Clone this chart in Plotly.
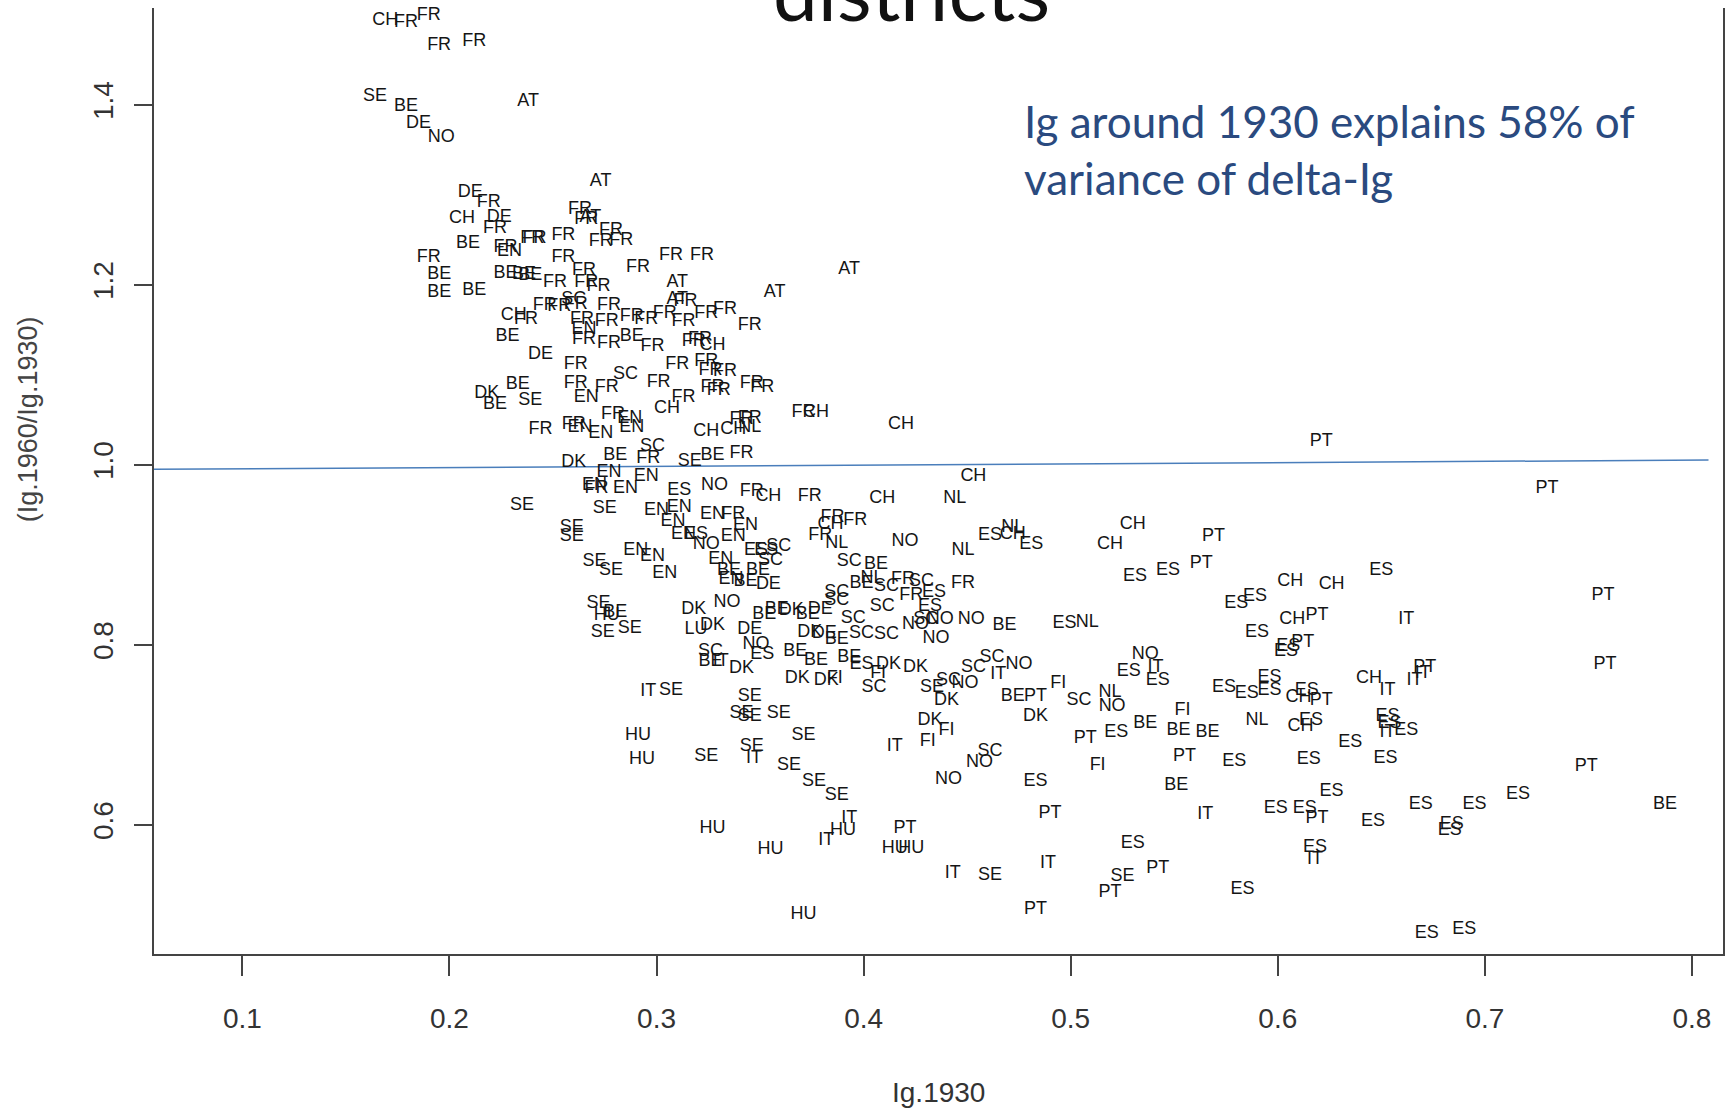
import plotly.graph_objects as go

# ---- data: Ig.1930 (x) and Ig.1960/Ig.1930 (y) per country label ----
CH_x = [0.169,0.206,0.231,0.305,0.327,0.324,0.337,0.377,0.418,0.453,0.354,0.409,0.384,0.472,0.530,0.519,0.606,0.626,0.607,0.610,0.611,0.644]
CH_y = [1.494,1.274,1.166,1.063,1.133,1.037,1.039,1.058,1.045,0.987,0.965,0.963,0.934,0.923,0.934,0.911,0.870,0.867,0.828,0.741,0.709,0.763]

FR_x = [0.179,0.190,0.195,0.212,0.219,0.222,0.240,0.241,0.255,0.263,0.266,0.278,0.273,0.283,0.190,0.227,0.251,0.255,0.265,0.266,
        0.272,0.291,0.307,0.322,0.314,0.261,0.246,0.253,0.277,0.237,0.264,0.276,0.288,0.295,0.304,0.313,0.324,0.265,0.277,0.298,
        0.318,0.261,0.310,0.324,0.301,0.313,0.327,0.261,0.276,0.333,0.345,0.321,0.326,0.333,0.346,0.351,0.330,0.371,0.345,0.244,
        0.260,0.279,0.296,0.341,0.341,0.271,0.337,0.346,0.374,0.385,0.396,0.379,0.419,0.448,0.423]
FR_y = [1.491,1.499,1.466,1.470,1.291,1.263,1.252,1.251,1.255,1.284,1.273,1.260,1.248,1.249,1.230,1.242,1.203,1.230,1.216,1.203,
        1.198,1.219,1.233,1.233,1.181,1.178,1.177,1.176,1.177,1.161,1.162,1.159,1.165,1.162,1.168,1.159,1.168,1.139,1.135,1.132,
        1.137,1.111,1.112,1.115,1.092,1.075,1.086,1.090,1.086,1.173,1.155,1.139,1.105,1.104,1.090,1.086,1.083,1.058,1.052,1.039,
        1.045,1.056,1.007,1.013,1.050,0.974,0.945,0.970,0.965,0.942,0.938,0.922,0.873,0.868,0.855]

BE_x = [0.179,0.209,0.195,0.195,0.212,0.227,0.236,0.239,0.228,0.233,0.222,0.280,0.327,0.288,0.280,0.367,0.377,0.393,0.326,0.399,
        0.406,0.468,0.349,0.472,0.536,0.552,0.566,0.551,0.787,0.335,0.343,0.352,0.358,0.373,0.387]
BE_y = [1.398,1.246,1.211,1.192,1.194,1.213,1.211,1.210,1.143,1.089,1.067,1.010,1.010,1.143,0.836,0.792,0.783,0.786,0.781,0.868,
        0.889,0.821,0.882,0.742,0.713,0.705,0.703,0.644,0.623,0.883,0.870,0.834,0.839,0.834,0.806]

DE_x = [0.185,0.210,0.224,0.244,0.345,0.354,0.379,0.381]
DE_y = [1.379,1.303,1.275,1.123,0.817,0.867,0.839,0.812]

SE_x = [0.164,0.239,0.235,0.259,0.259,0.270,0.278,0.275,0.272,0.274,0.287,0.316,0.307,0.345,0.341,0.345,0.359,0.371,0.324,0.346,
        0.364,0.376,0.387,0.433,0.461,0.525]
SE_y = [1.409,1.072,0.955,0.930,0.920,0.893,0.883,0.952,0.846,0.814,0.818,1.004,0.749,0.742,0.724,0.720,0.724,0.699,0.676,0.687,
        0.666,0.648,0.633,0.752,0.544,0.542]

NO_x = [0.196,0.328,0.324,0.334,0.348,0.420,0.437,0.452,0.425,0.435,0.449,0.475,0.536,0.520,0.456,0.441]
NO_y = [1.364,0.977,0.911,0.847,0.800,0.915,0.828,0.828,0.822,0.807,0.757,0.778,0.789,0.731,0.669,0.650]

AT_x = [0.238,0.273,0.268,0.310,0.310,0.357,0.393]
AT_y = [1.404,1.315,1.275,1.203,1.184,1.192,1.217]

DK_x = [0.218,0.260,0.318,0.327,0.341,0.368,0.382,0.412,0.425,0.440,0.432,0.483,0.365,0.374]
DK_y = [1.079,1.003,0.839,0.821,0.774,0.763,0.760,0.778,0.775,0.738,0.716,0.720,0.838,0.814]

EN_x = [0.229,0.265,0.266,0.273,0.263,0.287,0.288,0.277,0.295,0.285,0.300,0.311,0.327,0.308,0.313,0.337,0.343,0.290,0.298,0.304,
        0.331,0.336,0.270]
EN_y = [1.237,1.150,1.075,1.035,1.041,1.052,1.041,0.992,0.987,0.974,0.949,0.953,0.945,0.937,0.923,0.920,0.933,0.905,0.898,0.879,
        0.895,0.873,0.977]

SC_x = [0.260,0.285,0.298,0.359,0.355,0.393,0.411,0.428,0.387,0.409,0.430,0.399,0.411,0.405,0.441,0.453,0.462,0.504,0.461,0.326,
        0.387,0.395]
SC_y = [1.184,1.100,1.020,0.909,0.894,0.893,0.865,0.870,0.858,0.843,0.828,0.813,0.811,0.752,0.760,0.775,0.786,0.738,0.681,0.792,
        0.849,0.829]

ES_x = [0.311,0.319,0.348,0.353,0.461,0.481,0.434,0.432,0.399,0.531,0.547,0.580,0.589,0.497,0.590,0.605,0.604,0.528,0.542,0.522,
        0.483,0.530,0.574,0.585,0.596,0.596,0.614,0.616,0.635,0.615,0.579,0.626,0.599,0.613,0.618,0.650,0.653,0.654,0.662,0.652,
        0.669,0.695,0.716,0.646,0.684,0.683,0.583,0.672,0.690,0.351]
ES_y = [0.972,0.923,0.905,0.905,0.922,0.911,0.858,0.843,0.778,0.876,0.883,0.846,0.854,0.824,0.814,0.798,0.792,0.770,0.760,0.702,
        0.648,0.579,0.752,0.746,0.764,0.749,0.749,0.716,0.691,0.672,0.670,0.637,0.618,0.618,0.575,0.882,0.720,0.713,0.705,0.674,
        0.623,0.623,0.634,0.604,0.600,0.594,0.528,0.479,0.484,0.789]

PT_x = [0.621,0.730,0.569,0.563,0.619,0.612,0.757,0.671,0.758,0.483,0.507,0.555,0.749,0.490,0.619,0.542,0.519,0.483,0.420,0.621]
PT_y = [1.026,0.974,0.920,0.890,0.832,0.803,0.855,0.775,0.778,0.742,0.696,0.676,0.665,0.612,0.607,0.551,0.525,0.506,0.596,0.738]

NL_x = [0.345,0.444,0.448,0.472,0.387,0.404,0.508,0.519,0.590]
NL_y = [1.041,0.963,0.905,0.930,0.912,0.874,0.825,0.747,0.716]

IT_x = [0.296,0.347,0.393,0.382,0.415,0.465,0.541,0.443,0.489,0.565,0.618,0.662,0.670,0.666,0.653,0.653,0.331]
IT_y = [0.748,0.674,0.607,0.583,0.687,0.767,0.775,0.546,0.557,0.611,0.561,0.828,0.768,0.760,0.749,0.703,0.781]

HU_x = [0.291,0.293,0.327,0.355,0.371,0.390,0.415,0.423,0.276]
HU_y = [0.699,0.672,0.596,0.572,0.500,0.594,0.574,0.574,0.833]

FI_x = [0.386,0.407,0.440,0.431,0.494,0.513,0.554]
FI_y = [0.763,0.768,0.705,0.692,0.757,0.666,0.727]

LU_x = [0.319]
LU_y = [0.817]

# fitted line endpoints
line_x = [0.0573, 0.808]
line_y = [0.995, 1.0053]

x_ticks = [0.1, 0.2, 0.3, 0.4, 0.5, 0.6, 0.7, 0.8]
x_ticktext = ["0.1", "0.2", "0.3", "0.4", "0.5", "0.6", "0.7", "0.8"]
y_ticks = [0.6, 0.8, 1.0, 1.2, 1.4]
y_ticktext = ["0.6", "0.8", "1.0", "1.2", "1.4"]

series = [("FR", FR_x, FR_y), ("BE", BE_x, BE_y), ("CH", CH_x, CH_y), ("DE", DE_x, DE_y),
          ("SE", SE_x, SE_y), ("NO", NO_x, NO_y), ("AT", AT_x, AT_y), ("DK", DK_x, DK_y),
          ("EN", EN_x, EN_y), ("SC", SC_x, SC_y), ("ES", ES_x, ES_y), ("PT", PT_x, PT_y),
          ("NL", NL_x, NL_y), ("IT", IT_x, IT_y), ("HU", HU_x, HU_y), ("FI", FI_x, FI_y),
          ("LU", LU_x, LU_y)]

fig = go.Figure()
fig.add_trace(go.Scatter(x=line_x, y=line_y, mode="lines",
                         line=dict(color="#4A7EBB", width=1.5), hoverinfo="skip"))
for lab, xs, ys in series:
    fig.add_trace(go.Scatter(x=xs, y=ys, mode="text", text=[lab] * len(xs),
                             textposition="middle center", cliponaxis=False,
                             textfont=dict(family="Liberation Sans", size=18, color="#151515"),
                             name=lab))

axis_font = dict(family="Liberation Sans", size=28, color="#333333")
fig.update_xaxes(range=[0.0573, 0.815], tickvals=x_ticks, ticktext=x_ticktext,
                 ticks="outside", ticklen=20, tickwidth=2, tickcolor="#444444",
                 showline=True, linecolor="#444444", linewidth=2, mirror=False,
                 showgrid=False, zeroline=False, tickfont=axis_font, ticklabelstandoff=18)
fig.update_yaxes(range=[0.4564, 1.5076], tickvals=y_ticks, ticktext=y_ticktext,
                 ticks="outside", ticklen=18, tickwidth=2, tickcolor="#444444",
                 showline=True, linecolor="#444444", linewidth=2, mirror=True,
                 showgrid=False, zeroline=False, tickfont=axis_font, tickangle=-90,
                 ticklabelstandoff=10)

fig.update_layout(
    width=1729, height=1110,
    margin=dict(l=154, r=4, t=8, b=156),
    plot_bgcolor="white", paper_bgcolor="white", showlegend=False,
    annotations=[
        dict(text="Ig.1930", xref="paper", yref="paper", x=0.5003, y=-0.1459,
             xanchor="center", yanchor="middle", showarrow=False,
             font=dict(family="Liberation Sans", size=28, color="#333333")),
        dict(text="(Ig.1960/Ig.1930)", xref="paper", yref="paper", x=-0.0802, y=0.5655,
             xanchor="center", yanchor="middle", showarrow=False, textangle=-90,
             font=dict(family="Liberation Sans", size=27, color="#444444")),
        dict(text="Ig around 1930 explains 58% of<br>variance of delta-Ig",
             xref="paper", yref="paper", x=0.553, y=0.85, xanchor="left", yanchor="middle",
             align="left", showarrow=False,
             font=dict(family="Lato", size=44, color="#2A4A7F")),
        dict(text="districts", xref="paper", yref="paper", x=0.483, y=0.966,
             xanchor="center", yanchor="bottom", showarrow=False,
             font=dict(family="Lato", size=80, color="#111111")),
    ],
)

fig.write_html("out.html")
